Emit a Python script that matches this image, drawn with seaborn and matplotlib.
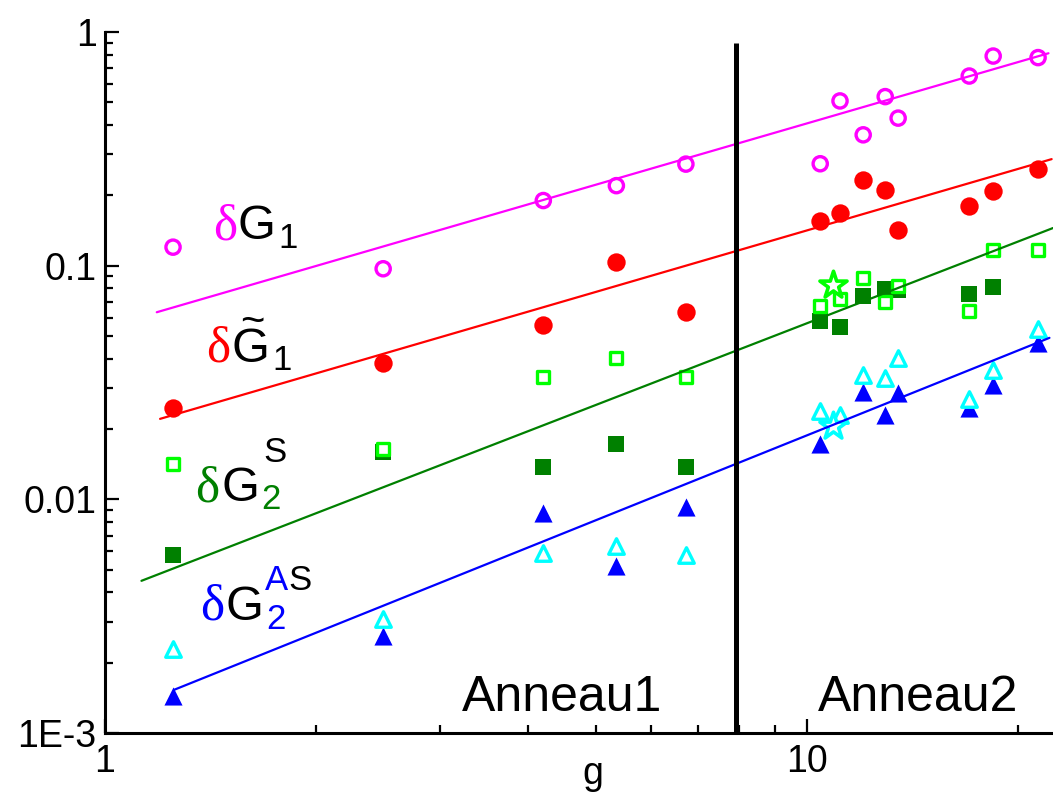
import matplotlib
matplotlib.use("Agg")
import matplotlib.pyplot as plt
from matplotlib.ticker import FixedLocator, NullFormatter
import seaborn as sns

# --- data ---
g_ring1 = [1.25, 2.49, 4.21, 5.35, 6.72]
g_ring2 = [10.44, 11.14, 12.02, 12.92, 13.48, 17.02, 18.41, 21.33]

dG1_ring1 = [0.120, 0.097, 0.190, 0.220, 0.272]
dG1_ring2 = [0.273, 0.507, 0.363, 0.529, 0.428, 0.648, 0.789, 0.777]

dG1t_ring1 = [0.0246, 0.0385, 0.0560, 0.1037, 0.0634]
dG1t_ring2 = [0.156, 0.168, 0.233, 0.210, 0.1425, 0.1805, 0.2077, 0.260]

dG2S_open_ring1 = [0.0141, 0.0165, 0.0335, 0.0403, 0.0335]
dG2S_open_ring2 = [0.0670, 0.0723, 0.0882, 0.0700, 0.0815, 0.0638, 0.117, 0.1162]
dG2S_full_ring1 = [0.00576, 0.0160, 0.0138, 0.0172, 0.0137]
dG2S_full_ring2 = [0.0578, 0.0549, 0.0739, 0.0797, 0.0789, 0.0759, 0.0811]
g_ring2_full_sq = [10.44, 11.14, 12.02, 12.92, 13.48, 17.02, 18.41]

dG2AS_open_ring1 = [0.00229, 0.00309, 0.00588, 0.00631, 0.00577]
dG2AS_open_ring2 = [0.0238, 0.0229, 0.0342, 0.0331, 0.0403, 0.0269, 0.0359, 0.0536]
dG2AS_full_ring1 = [0.00144, 0.00261, 0.00877, 0.00516, 0.00931]
g_ring2_full_tri = [10.44, 12.02, 12.92, 13.48, 17.02, 18.41, 21.33]
dG2AS_full_ring2 = [0.0172, 0.0287, 0.0229, 0.0286, 0.0247, 0.0310, 0.0468]

star_g = [10.88, 10.90]
star_val = [0.083, 0.0206]

# fitted power-law lines (end points)
fit_g1_x, fit_g1_y = [1.185, 22.07], [0.0632, 0.811]
fit_g1t_x, fit_g1t_y = [1.198, 22.3], [0.0221, 0.2857]
fit_g2s_x, fit_g2s_y = [1.127, 22.4], [0.00448, 0.1449]
fit_g2as_x, fit_g2as_y = [1.254, 22.14], [0.00153, 0.0491]

divider_g = 7.92
divider_top = 0.9

MAG, RED, DGREEN, LGREEN, CYAN, BLUE = "#FF00FF", "#FF0000", "#008000", "#00FF00", "#00FFFF", "#0000FF"

sns.set_style("ticks")
plt.rcParams["font.family"] = ["Liberation Sans", "DejaVu Sans"]
plt.rcParams["text.color"] = "black"
plt.rcParams["axes.labelcolor"] = "black"

W, H = 1053, 798
fig = plt.figure(figsize=(W / 100, H / 100), dpi=100)
ax = fig.add_axes([105 / W, 65 / H, (W - 105) / W, (733 - 32) / H])
ax.set_xscale("log")
ax.set_yscale("log")


def pts(x, y, marker, s, face, edge, lw, z):
    sns.scatterplot(x=x, y=y, ax=ax, marker=marker, s=s, color=face,
                    edgecolor=edge, linewidth=lw, zorder=z, legend=False)


# filled markers first, open (white filled) ones on top
pts(g_ring1 + g_ring2, dG1t_ring1 + dG1t_ring2, "o", 175, RED, RED, 0, 3)
pts(g_ring1 + g_ring2_full_sq, dG2S_full_ring1 + dG2S_full_ring2, "s", 125, DGREEN, DGREEN, 0, 3)
pts(g_ring1 + g_ring2_full_tri, dG2AS_full_ring1 + dG2AS_full_ring2, "^", 170, BLUE, BLUE, 0, 3)
pts(g_ring1 + g_ring2, dG1_ring1 + dG1_ring2, "o", 105, "none", MAG, 2.4, 4)
pts(g_ring1 + g_ring2, dG2S_open_ring1 + dG2S_open_ring2, "s", 72, "white", LGREEN, 2.4, 4)
pts(g_ring1 + g_ring2, dG2AS_open_ring1 + dG2AS_open_ring2, "^", 125, "white", CYAN, 2.4, 4)
pts(star_g[:1], star_val[:1], "*", 420, "white", LGREEN, 2.6, 4)
pts(star_g[1:], star_val[1:], "*", 420, "white", CYAN, 2.6, 4)

for lx, ly, c in [(fit_g1_x, fit_g1_y, MAG), (fit_g1t_x, fit_g1t_y, RED),
                  (fit_g2s_x, fit_g2s_y, DGREEN), (fit_g2as_x, fit_g2as_y, BLUE)]:
    sns.lineplot(x=lx, y=ly, ax=ax, color=c, linewidth=1.6, sort=False, zorder=5)

ax.vlines(divider_g, 1e-3, divider_top, color="black", linewidth=3.6, zorder=6)

ax.set_xlim(1, 22.4)
ax.set_ylim(1e-3, 1)
ax.set_xticks([1, 10], labels=["1", "10"])
ax.xaxis.set_minor_locator(FixedLocator([2, 3, 4, 5, 6, 7, 8, 9, 20]))
ax.xaxis.set_minor_formatter(NullFormatter())
ax.set_yticks([1e-3, 1e-2, 1e-1, 1], labels=["1E-3", "0.01", "0.1", "1"])
ax.yaxis.set_minor_locator(FixedLocator([m * 10.0 ** e for e in (-3, -2, -1) for m in range(2, 10)]))
ax.yaxis.set_minor_formatter(NullFormatter())
ax.tick_params(which="both", direction="in", width=1.6, labelsize=27, colors="black")
ax.tick_params(which="major", length=10, pad=6)
ax.tick_params(which="minor", length=6)
ax.tick_params(axis="x", pad=8)
for side in ["top", "right"]:
    ax.spines[side].set_visible(False)
for side in ["left", "bottom"]:
    ax.spines[side].set_linewidth(2.2)
    ax.spines[side].set_color("black")

ax.set_xlabel("g", fontsize=27, va="baseline", color="black")
ax.xaxis.set_label_coords((593 - 105) / (W - 105), (733 - 784) / (733 - 32))
ax.set_ylabel("")

# region names
ax.text(462 / W, 1 - 711 / H, "Anneau1", transform=fig.transFigure, fontsize=36,
        va="baseline", color="black")
ax.text(818 / W, 1 - 711 / H, "Anneau2", transform=fig.transFigure, fontsize=36,
        va="baseline", color="black")


def piece(px, py, s, color, size, serif=False):
    fam = ["Liberation Serif", "DejaVu Serif"] if serif else ["Liberation Sans", "DejaVu Sans"]
    fig.text(px / W, 1 - py / H, s, color=color, fontsize=size, family=fam,
             ha="left", va="baseline")


# dG1
piece(213, 240, "δ", MAG, 37, serif=True)
piece(238, 239, "G", "black", 35)
piece(278, 248, "1", "black", 25)
# dG1 tilde
piece(206, 362, "δ", RED, 37, serif=True)
piece(232, 362, "G", "black", 35)
piece(240, 334, "~", "black", 30)
piece(272, 370, "1", "black", 25)
# dG2 S
piece(195, 501, "δ", DGREEN, 37, serif=True)
piece(221, 501, "G", "black", 35)
piece(261, 509, "2", DGREEN, 25)
piece(263, 462, "S", "black", 25)
# dG2 AS
piece(200, 620, "δ", BLUE, 37, serif=True)
piece(226, 620, "G", "black", 35)
piece(266, 629, "2", BLUE, 25)
piece(265, 590, "A", BLUE, 25)
piece(288, 590, "S", "black", 25)

fig.savefig("out.png", dpi=100)
